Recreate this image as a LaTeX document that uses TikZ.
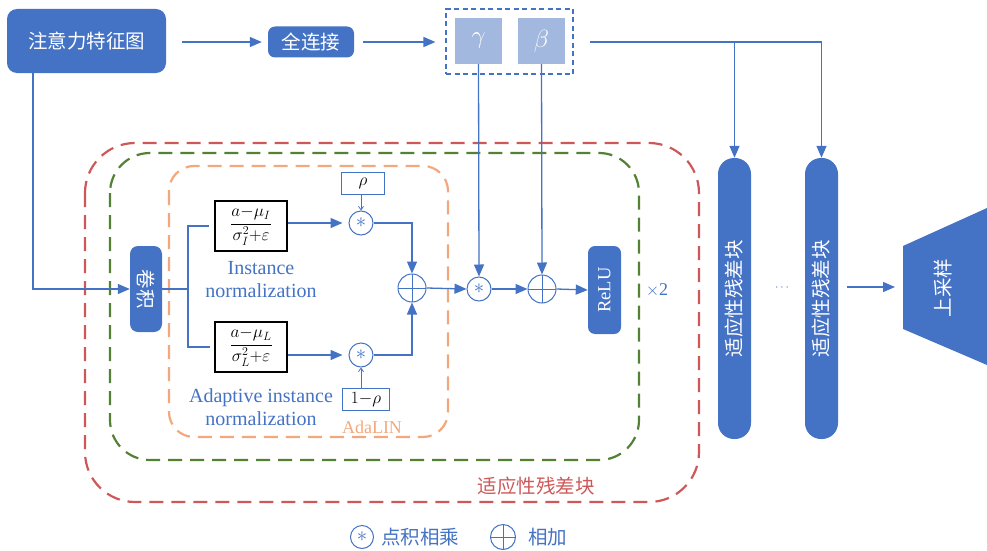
\documentclass[tikz,border=0pt]{standalone}
\usepackage{amsmath}
\usepackage{fontspec}
\setmainfont{Liberation Serif}
\newfontfamily\cjk{Noto Sans CJK SC}
\usetikzlibrary{arrows.meta}
\definecolor{blueM}{RGB}{68,114,196}
\definecolor{blueL}{RGB}{162,184,222}
\definecolor{redD}{RGB}{206,88,88}
\definecolor{greenD}{RGB}{84,130,53}
\definecolor{orangeD}{RGB}{242,168,125}
\begin{document}
\begin{tikzpicture}[x=1pt,y=-1pt,
  cjkf/.style={font=\cjk\fontsize{19.5}{22}\selectfont},
  bluebox/.style={fill=blueM, draw=none, rounded corners=#1, text=white, inner sep=0pt, cjkf},
  conn/.style={draw=blueM, line width=1.3pt},
  arr/.style={conn, -{Triangle[length=12pt,width=10pt]}},
  sarr/.style={draw=blueM, line width=0.8pt, -{Straight Barb[length=3.5pt,width=5pt]}},
  mulc/.style={circle, draw=blueM, line width=1pt, minimum size=24pt, inner sep=0pt, text=blueM, font=\fontsize{20}{20}\selectfont},
  addc/.style={circle, draw=blueM, line width=1pt, minimum size=28pt, inner sep=0pt,
    path picture={\draw[blueM, line width=1pt] (path picture bounding box.north) -- (path picture bounding box.south)
      (path picture bounding box.west) -- (path picture bounding box.east);}},
  fbox/.style={draw=black, line width=1.2pt, minimum width=72pt, minimum height=50pt, inner sep=0pt, font=\fontsize{18}{20}\selectfont},
  pbox/.style={draw=blueM, line width=1pt, inner sep=0pt, font=\fontsize{17}{20}\selectfont},
  gbox/.style={fill=blueL, minimum width=47pt, minimum height=46pt, inner sep=0pt, text=white, font=\fontsize{23}{24}\selectfont},
  bluetext/.style={text=blueM, font=\fontsize{20}{23}\selectfont, align=center},
  dashedrect/.style={line width=2.2pt, dash pattern=on 14pt off 8pt}
]
\useasboundingbox (0,0) rectangle (987,551);

% dashed frames
\draw[dashedrect, redD, rounded corners=50pt] (85,143) rectangle (699,502);
\draw[dashedrect, greenD, rounded corners=40pt] (110,153) rectangle (639,460);
\draw[dashedrect, orangeD, rounded corners=25pt] (169,166) rectangle (448,437);
\node[text=redD, cjkf] (reslabel) at (536,486) {适应性残差块};

% top row
\node[bluebox=10pt, minimum width=159pt, minimum height=64pt] (feat) at (86.5,41) {注意力特征图};
\node[bluebox=7pt, minimum width=86pt, minimum height=31pt] (fc) at (311,42) {全连接};
\node[draw=blueM, line width=1.1pt, dash pattern=on 5pt off 3.5pt, minimum width=127pt, minimum height=65pt, inner sep=0pt] (gb) at (509.5,41.5) {};
\node[gbox] (gamma) at (478.5,41) {$\gamma$};
\node[gbox] (beta) at (541.5,41) {$\beta$};
\draw[arr, shorten <=16pt, shorten >=6pt] (feat.east |- fc.west) -- (fc.west);
\draw[arr, shorten <=9pt, shorten >=10pt] (fc.east) -- (gb.west |- fc.east);

% conv
\node[bluebox=8pt, minimum width=32pt, minimum height=86pt] (conv) at (146,289) {};
\node[rotate=-90, text=white, cjkf] at (conv) {卷积};
\coordinate (fs) at (33,73);
\draw[arr] (fs) |- (conv.west);

% formula boxes
\node[fbox] (in1) at (251,226) {$\dfrac{a{-}\mu_I}{\sigma_I^2{+}\varepsilon}$};
\node[fbox] (in2) at (251,347) {$\dfrac{a{-}\mu_L}{\sigma_L^2{+}\varepsilon}$};
\node[bluetext] (t1) at (261,280) {Instance\\normalization};
\node[bluetext] (t2) at (261,407) {Adaptive instance\\normalization};
\draw[blueM, line width=2.6pt] (conv.east) -- (188,289);
\draw[blueM, line width=2.6pt] ([xshift=-5pt]in1.west) -| (188,289) |- ([xshift=-4pt]in2.west |- in2.west);

% multiply circles and rho
\node[mulc] (m1) at (361,223) {$\ast$};
\node[mulc] (m2) at (361,355) {$\ast$};
\node[pbox, minimum width=43pt, minimum height=22pt] (rho) at (363,183) {$\rho$};
\node[pbox, minimum width=47pt, minimum height=22pt] (rho2) at (366,399.5) {$1{-}\rho$};
\node[text=orangeD, font=\fontsize{18}{20}\selectfont] (ada) at (372,427) {AdaLIN};
\draw[arr, shorten >=6pt] (in1.east |- m1.west) -- (m1.west);
\draw[arr, shorten >=6pt] (in2.east |- m2.west) -- (m2.west);
\draw[sarr] (m1.north |- rho.south) -- (m1.north);
\draw[sarr] (m2.south |- rho2.north) -- (m2.south);

\node[addc] (a1) at (412,288) {};
\draw[arr] (m1.east) -| (a1.north);
\draw[arr] (m2.east) -| (a1.south);

\node[mulc] (m3) at (479,289) {$\ast$};
\node[addc] (a2) at (542,289) {};
\draw[arr] (a1.east) -- (m3.west);
\draw[arr] (m3.east) -- (a2.west);
\draw[arr] (gamma.south) -- (m3.north);
\draw[arr] (beta.south) -- (a2.north);

\node[bluebox=7pt, minimum width=33pt, minimum height=88pt] (relu) at (604.5,290) {};
\node[rotate=90, text=white, font=\fontsize{18.5}{20}\selectfont] at (relu) {ReLU};
\draw[arr] (a2.east) -- (relu.west);
\node[text=blueM, font=\fontsize{18}{20}\selectfont] (x2) at (657,290) {$\times$2};

% residual blocks
\node[bluebox=16pt, minimum width=33pt, minimum height=281pt] (blk1) at (734.5,298.5) {};
\node[rotate=90, text=white, cjkf] at (blk1) {适应性残差块};
\node[bluebox=16pt, minimum width=33pt, minimum height=281pt] (blk2) at (821.5,298.5) {};
\node[rotate=90, text=white, cjkf] at (blk2) {适应性残差块};
\node[text=blueM, font=\fontsize{12}{12}\selectfont] (dots) at (783,288) {$\cdots$};
\coordinate (gbout) at (590,42);
\draw[arr] (gbout) -| (blk2.north);
\draw[arr] (gbout -| blk1.north) -- (blk1.north);

% upsample
\fill[blueM] (903,246) -- (987,208) -- (987,365) -- (903,329) -- cycle;
\coordinate (upin) at (903,287);
\node[rotate=90, text=white, cjkf] (up) at (943,288) {上采样};
\draw[arr, shorten <=9pt, shorten >=8pt] (blk2.east |- upin) -- (upin);

% legend
\node[mulc, minimum size=23pt] (lm) at (362,537) {$\ast$};
\node[anchor=west, text=blueM, cjkf, inner sep=0pt] (lmt) at (381,537) {点积相乘};
\node[addc, minimum size=25pt] (la) at (503,537) {};
\node[anchor=west, text=blueM, cjkf, inner sep=0pt] (lat) at (528,537) {相加};
\end{tikzpicture}
\end{document}
